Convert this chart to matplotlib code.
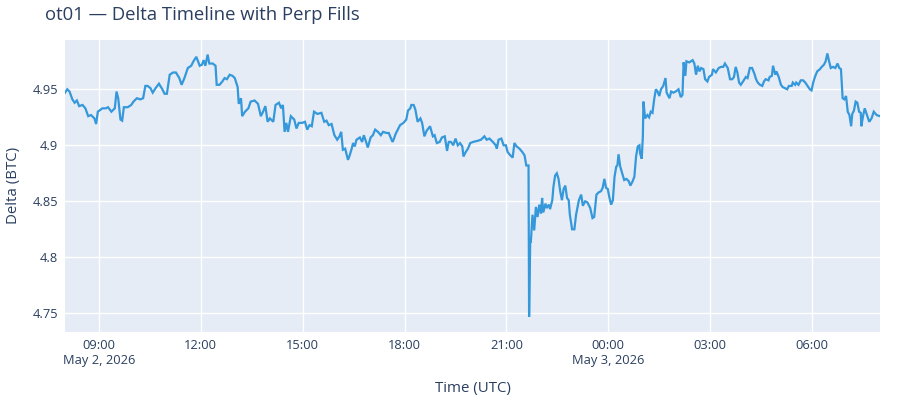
import matplotlib
matplotlib.use("Agg")
import matplotlib.pyplot as plt
import matplotlib.dates as mdates
from matplotlib.ticker import FuncFormatter
import pandas as pd

# ---- data ----
start_time = "2026-05-02 08:00"
minutes = [
    0, 4, 8, 13, 17, 21, 25, 31, 36, 41, 46, 52, 55, 58, 66, 72, 76, 82, 88, 91, 94, 98, 101, 104,
    111, 117, 121, 127, 133, 138, 142, 146, 151, 155, 160, 166, 172, 176, 180, 185, 191, 196, 202,
    206, 211, 217, 223, 227, 232, 238, 242, 245, 248, 252, 255, 261, 266, 268, 273, 278, 282, 286,
    291, 296,
    300, 305, 307, 311, 313, 318, 324, 328, 335, 341, 346, 350, 354, 358, 362, 368, 372, 378, 382,
    385, 388, 391, 394, 399, 405, 409, 413, 419, 424, 428, 432, 436, 440, 446, 453, 458, 462, 466,
    471, 476, 481, 485, 488, 491, 495, 500, 503, 506, 509, 512, 515, 521, 525, 528, 532, 535, 540,
    544, 548, 553, 558, 562, 568, 572, 577, 579, 582,
    584, 588, 592, 598, 603, 606, 610, 612, 616, 619, 623, 628, 631, 635, 639, 645, 650, 653, 657,
    662, 666, 671, 675, 678, 682, 686, 690, 694, 698, 702, 704, 708, 712, 716, 721, 729, 735, 741,
    745, 750, 756, 761, 763, 766, 771, 775, 779, 782, 787, 791, 794, 798, 803, 808, 812, 815, 819,
    820, 822, 823, 826, 829, 832, 835, 838, 841, 843, 845, 849, 851, 855, 857, 861, 863, 866, 869,
    872, 875, 878, 881, 884, 887, 890, 892, 896, 900, 903, 908, 912, 915, 919, 923, 928, 932, 935,
    939, 943, 947, 950, 953, 956, 959, 962, 965, 968, 971, 974, 976, 978, 981, 984, 988, 992, 996,
    999, 1003, 1006, 1009, 1012, 1015, 1016, 1019,
    1021, 1022, 1025, 1029, 1032, 1035, 1038, 1041, 1044, 1047, 1050, 1053, 1057, 1061, 1063, 1068,
    1071, 1075, 1079, 1084, 1088, 1091, 1093, 1096, 1098, 1103, 1109, 1112, 1115, 1118, 1121, 1124,
    1128, 1131, 1135, 1138, 1143, 1145, 1150, 1155, 1159, 1163, 1166, 1171, 1175, 1179, 1182, 1185,
    1188, 1191, 1194, 1198, 1203, 1206, 1210, 1214, 1218, 1221, 1224, 1228, 1232, 1235, 1238, 1243,
    1245, 1249, 1251, 1255, 1257, 1261, 1265, 1268, 1272, 1276, 1279, 1284, 1286, 1290, 1292, 1296,
    1300, 1304, 1308, 1312, 1316, 1319, 1322, 1325, 1329, 1334, 1337, 1341, 1344, 1347, 1350, 1353,
    1357, 1361, 1365, 1368, 1371, 1374, 1377, 1380, 1383, 1386, 1389, 1391, 1394, 1397, 1400, 1403,
    1406, 1407, 1410, 1413, 1417, 1421, 1425, 1429, 1434, 1440,
]
delta_btc = [
    4.947, 4.950, 4.948, 4.941, 4.938, 4.940, 4.935, 4.936, 4.933, 4.926, 4.927, 4.924, 4.919, 4.930,
    4.933, 4.933, 4.934, 4.930, 4.933, 4.948, 4.942, 4.923, 4.922, 4.934, 4.934, 4.936, 4.939, 4.942,
    4.941, 4.942, 4.953, 4.953, 4.951, 4.947, 4.951, 4.955, 4.950, 4.946, 4.946, 4.963, 4.965, 4.965,
    4.960, 4.954, 4.960, 4.969, 4.971, 4.975, 4.979, 4.971, 4.972, 4.976, 4.971, 4.981, 4.973, 4.973,
    4.971, 4.954, 4.954, 4.957, 4.960, 4.959, 4.963, 4.962,
    4.960, 4.952, 4.937, 4.942, 4.926, 4.930, 4.933, 4.939, 4.940, 4.937, 4.926, 4.930, 4.935, 4.921,
    4.924, 4.921, 4.936, 4.938, 4.933, 4.936, 4.912, 4.920, 4.912, 4.926, 4.923, 4.915, 4.920, 4.920,
    4.921, 4.914, 4.918, 4.917, 4.930, 4.928, 4.929, 4.921, 4.922, 4.918, 4.919, 4.909, 4.905, 4.908,
    4.912, 4.896, 4.897, 4.887, 4.891, 4.896, 4.902, 4.899, 4.905, 4.907, 4.903, 4.909, 4.903, 4.898,
    4.907, 4.909, 4.914, 4.912, 4.909, 4.912, 4.911, 4.911, 4.905, 4.903, 4.907,
    4.910, 4.914, 4.918, 4.920, 4.923, 4.931, 4.933, 4.936, 4.936, 4.932, 4.921, 4.924, 4.920, 4.908,
    4.913, 4.917, 4.908, 4.909, 4.902, 4.903, 4.907, 4.908, 4.895, 4.903, 4.903, 4.900, 4.906, 4.900,
    4.902, 4.899, 4.890, 4.894, 4.897, 4.902, 4.903, 4.904, 4.905, 4.908, 4.905, 4.906, 4.903, 4.900,
    4.897, 4.905, 4.906, 4.900, 4.900, 4.894, 4.891, 4.889, 4.902, 4.899, 4.897, 4.894, 4.891, 4.882,
    4.882,
    4.747, 4.815, 4.813, 4.838, 4.824, 4.845, 4.836, 4.847, 4.839, 4.853, 4.840, 4.848, 4.844, 4.847,
    4.843, 4.851, 4.863, 4.873, 4.875, 4.870, 4.859, 4.851, 4.861, 4.864, 4.853, 4.851, 4.838, 4.825,
    4.825, 4.838, 4.851, 4.856, 4.846, 4.850, 4.849, 4.844, 4.835, 4.836, 4.856, 4.858, 4.859, 4.862,
    4.870, 4.862, 4.861, 4.853, 4.847, 4.851, 4.872, 4.881, 4.882, 4.892, 4.881, 4.876, 4.869, 4.870,
    4.868, 4.864, 4.868, 4.872, 4.890, 4.899, 4.900, 4.893, 4.888,
    4.908, 4.939, 4.924, 4.927, 4.925, 4.930, 4.929, 4.941, 4.950, 4.948, 4.944, 4.950, 4.953, 4.960,
    4.947, 4.942, 4.948, 4.947, 4.948, 4.950, 4.943, 4.945, 4.974, 4.962, 4.975, 4.974, 4.976, 4.973,
    4.963, 4.971, 4.966, 4.969, 4.968, 4.959, 4.957, 4.961, 4.963, 4.968, 4.965, 4.969, 4.970, 4.970,
    4.973, 4.969, 4.959, 4.959, 4.961, 4.970, 4.965, 4.956, 4.954, 4.957, 4.961, 4.960, 4.969, 4.969,
    4.964, 4.959, 4.956, 4.954, 4.953, 4.957, 4.959, 4.958, 4.961, 4.962, 4.971, 4.963, 4.966, 4.961,
    4.954, 4.952, 4.951, 4.950, 4.953, 4.953, 4.956, 4.954, 4.956, 4.954, 4.958, 4.958, 4.956, 4.953,
    4.950, 4.949, 4.956, 4.961, 4.966, 4.968, 4.970, 4.972, 4.975, 4.982, 4.975, 4.969, 4.970, 4.969,
    4.973, 4.969, 4.968, 4.942, 4.941, 4.944, 4.930, 4.927, 4.917, 4.928, 4.931, 4.939, 4.938, 4.930,
    4.929, 4.917, 4.926, 4.933, 4.927, 4.921, 4.924, 4.930, 4.927, 4.926,
]
y_ticks = [4.75, 4.8, 4.85, 4.9, 4.95]
x_tick_times = ["2026-05-02 09:00", "2026-05-02 12:00", "2026-05-02 15:00", "2026-05-02 18:00",
                "2026-05-02 21:00", "2026-05-03 00:00", "2026-05-03 03:00", "2026-05-03 06:00"]
x_tick_labels = ["09:00\nMay 2, 2026", "12:00", "15:00", "18:00", "21:00",
                 "00:00\nMay 3, 2026", "03:00", "06:00"]

title = "ot01 — Delta Timeline with Perp Fills"
x_title = "Time (UTC)"
y_title = "Delta (BTC)"

# ---- build ----
times = pd.Timestamp(start_time) + pd.to_timedelta(minutes, unit="min")
plt.rcParams['font.family'] = ['Open Sans', 'DejaVu Sans']
text_color = "#2a3f5f"

fig = plt.figure(figsize=(9, 4), dpi=100)
ax = fig.add_axes([65/900, 1 - 331.7/400, 815/900, 291.7/400])
ax.set_facecolor("#E5ECF6")
for s in ax.spines.values():
    s.set_visible(False)

ax.plot(times, delta_btc, color="#3498db", linewidth=1.6, solid_joinstyle="miter")

ax.set_xlim(times[0], times[-1])
ax.set_ylim(4.7336, 4.994)

ax.set_yticks(y_ticks)
ax.yaxis.set_major_formatter(FuncFormatter(lambda v, p: f"{v:g}"))
ax.set_xticks([pd.Timestamp(t) for t in x_tick_times])
ax.set_xticklabels(x_tick_labels)
ax.grid(True, color="white", linewidth=1.0)
ax.set_axisbelow(True)
ax.tick_params(axis="both", length=0, labelsize=9.3, labelcolor=text_color)
ax.tick_params(axis="x", pad=5)
ax.tick_params(axis="y", pad=5)
for lab in ax.get_xticklabels():
    lab.set_multialignment("center")
    lab.set_linespacing(1.25)

ax.set_xlabel(x_title, fontsize=10.8, color=text_color, labelpad=10)
ax.set_ylabel(y_title, fontsize=10.8, color=text_color, labelpad=8)
fig.text(45/900, 1 - 15/400, title, fontsize=13.3, color=text_color, ha="left", va="center")

fig.savefig("out.png", dpi=100)
